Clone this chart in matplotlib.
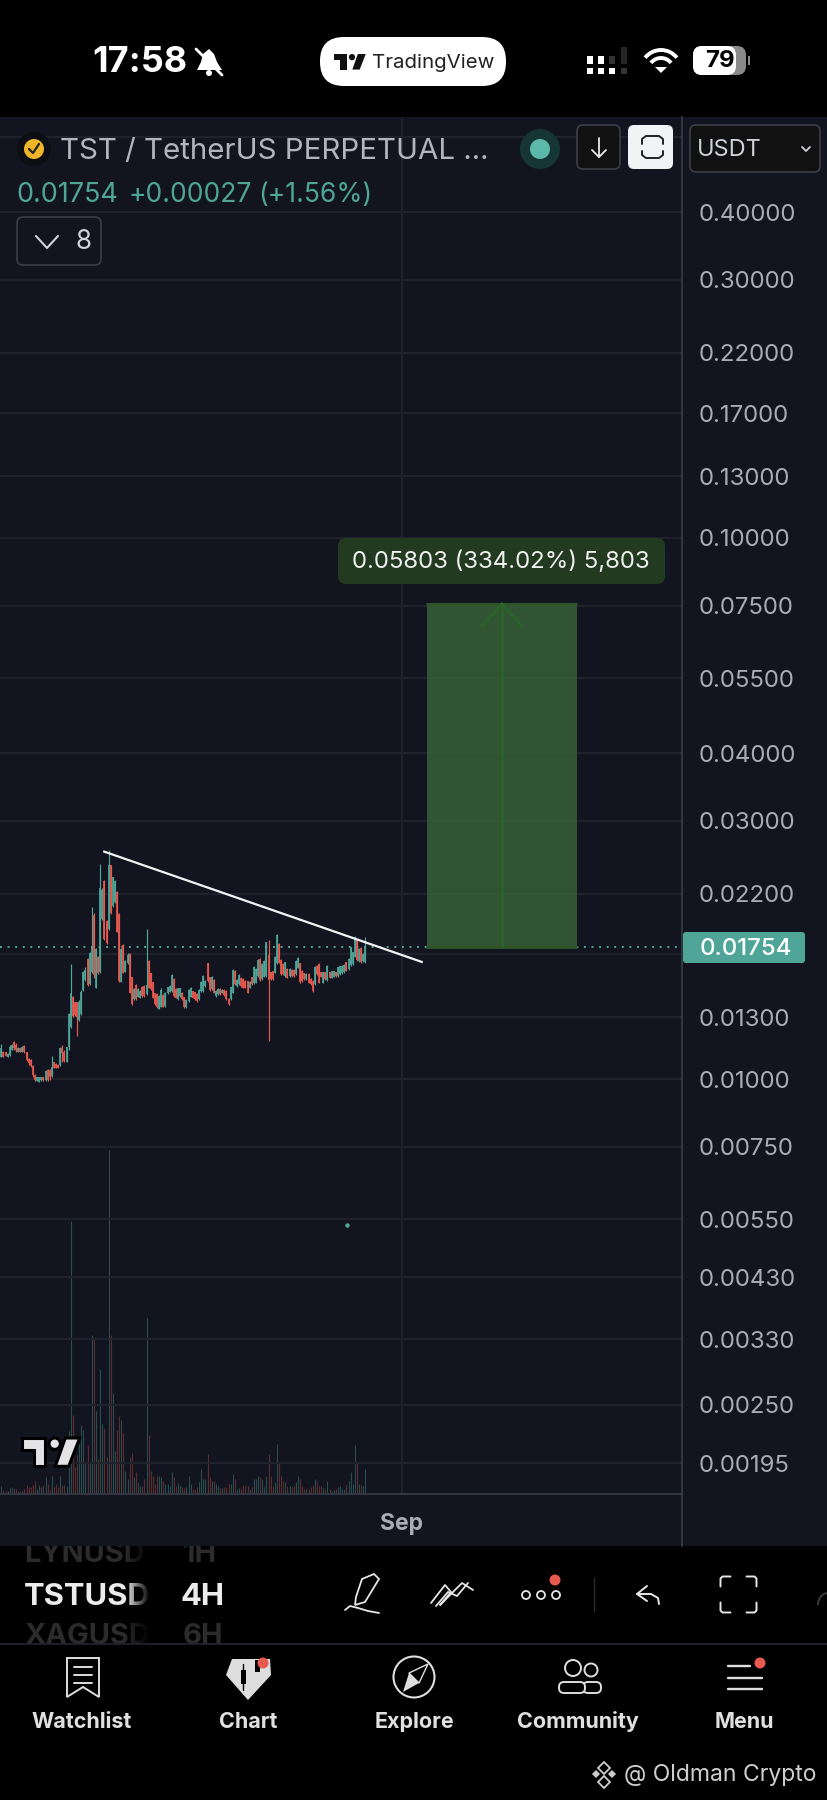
import numpy as np
import matplotlib
matplotlib.use('Agg')
import matplotlib.pyplot as plt
from matplotlib.patches import Rectangle, FancyBboxPatch, Circle, Polygon, Arc
from matplotlib.ticker import NullLocator

plt.rcParams['font.family'] = ['Inter', 'Noto Sans', 'DejaVu Sans']

opens = [.01100,.01124,.01121,.01100,.01108,.01132,.01172,.01156,.01124,.01140,.01124,.01151,.01121,.01087,.01084,.01056,.01017,.00993,.00989,.00996,
 .01007,.00996,.01039,.01039,.01013,.01073,.01066,.01063,.01061,.01140,.01124,.01077,.01148,.01246,.01419,.01386,.01386,.01286,.01317,.01461,
 .01524,.01666,.01496,.01579,.02009,.01475,.01683,.01579,.01972,.02325,.01960,.01891,.02485,.02088,.02126,.02218,.02017,.01513,.01769,.01579,
 .01636,.01702,.01541,.01403,.01492,.01419,.01413,.01481,.01488,.01434,.01654,.01568,.01509,.01440,.01436,.01349,.01360,.01430,.01364,.01440,
 .01450,.01454,.01528,.01467,.01403,.01423,.01442,.01415,.01356,.01393,.01419,.01452,.01446,.01436,.01403,.01454,.01454,.01486,.01636,.01541,
 .01465,.01524,.01423,.01434,.01467,.01444,.01461,.01456,.01405,.01403,.01444,.01586,.01486,.01496,.01537,.01530,.01519,.01515,.01475,.01541,
 .01503,.01507,.01550,.01666,.01528,.01546,.01550,.01695,.01575,.01581,.01572,.01636,.01777,.01659,.01631,.01550,.01597,.01550,.01593,.01593,
 .01561,.01606,.01636,.01586,.01568,.01528,.01564,.01530,.01519,.01496,.01620,.01631,.01575,.01507,.01575,.01524,.01575,.01539,.01546,.01575,
 .01550,.01561,.01568,.01575,.01643,.01595,.01624,.01631,.01683,.01807,.01652,.01746,.01652,.01647]
closes = [.01140,.01100,.01105,.01113,.01148,.01156,.01140,.01129,.01140,.01124,.01148,.01124,.01084,.01069,.01056,.01017,.00996,.01007,.01007,.01007,
 .00996,.01036,.00996,.01010,.01054,.01046,.01046,.01050,.01140,.01116,.01081,.01145,.01319,.01440,.01308,.01313,.01304,.01390,.01450,.01579,
 .01590,.01492,.01707,.01744,.01557,.01736,.01568,.02250,.02240,.01812,.01781,.02485,.02023,.02358,.02325,.01872,.01517,.01736,.01572,.01654,
 .01695,.01444,.01374,.01467,.01403,.01467,.01456,.01423,.01423,.01492,.01475,.01465,.01413,.01374,.01356,.01426,.01461,.01360,.01440,.01477,
 .01486,.01557,.01423,.01413,.01471,.01471,.01403,.01356,.01399,.01461,.01475,.01413,.01403,.01393,.01461,.01513,.01550,.01519,.01517,.01461,
 .01546,.01444,.01456,.01467,.01434,.01461,.01430,.01403,.01374,.01477,.01590,.01496,.01524,.01557,.01486,.01475,.01475,.01444,.01513,.01496,
 .01613,.01597,.01659,.01524,.01631,.01654,.01789,.01524,.01528,.01528,.01683,.01846,.01640,.01561,.01561,.01643,.01539,.01597,.01550,.01550,
 .01654,.01673,.01511,.01517,.01528,.01564,.01507,.01496,.01454,.01613,.01561,.01507,.01546,.01575,.01528,.01620,.01539,.01581,.01581,.01550,
 .01608,.01615,.01620,.01627,.01586,.01666,.01751,.01714,.01833,.01659,.01739,.01645,.01702,.01754]
highs = [.01161,.01127,.01124,.01116,.01156,.01161,.01177,.01168,.01148,.01143,.01151,.01156,.01124,.01092,.01087,.01061,.01021,.01010,.01010,.01010,
 .01010,.01039,.01042,.01042,.01103,.01077,.01069,.01066,.01145,.01156,.01132,.01148,.01322,.01631,.01423,.01390,.01390,.01399,.01461,.01586,
 .01608,.01671,.01719,.02082,.02023,.01744,.01688,.02496,.02250,.02331,.01967,.02648,.02485,.02365,.02331,.02228,.02023,.01744,.01777,.01659,
 .01707,.01707,.01546,.01471,.01498,.01471,.01461,.01488,.01492,.01893,.01659,.01572,.01513,.01444,.01440,.01430,.01471,.01436,.01450,.01481,
 .01492,.01564,.01535,.01471,.01475,.01475,.01446,.01419,.01403,.01465,.01481,.01456,.01450,.01440,.01465,.01519,.01557,.01524,.01640,.01546,
 .01550,.01528,.01461,.01471,.01471,.01465,.01465,.01461,.01409,.01481,.01597,.01590,.01528,.01564,.01541,.01535,.01524,.01519,.01517,.01546,
 .01617,.01601,.01664,.01671,.01636,.01659,.01794,.01807,.01579,.01586,.01688,.01854,.01781,.01664,.01636,.01647,.01601,.01601,.01597,.01597,
 .01659,.01678,.01640,.01590,.01572,.01568,.01568,.01535,.01524,.01617,.01624,.01636,.01579,.01579,.01579,.01624,.01579,.01586,.01586,.01579,
 .01613,.01620,.01624,.01631,.01647,.01671,.01756,.01719,.01838,.01812,.01744,.01751,.01707,.01833]
lows = [.01097,.01097,.01103,.01097,.01103,.01129,.01132,.01124,.01121,.01121,.01121,.01116,.01081,.01061,.01054,.01010,.00993,.00993,.00989,.00993,
 .00993,.00993,.00993,.00996,.01010,.01046,.01046,.01050,.01056,.01077,.01077,.01077,.01132,.01241,.01304,.01309,.01201,.01282,.01313,.01456,
 .01519,.01488,.01492,.01572,.01535,.01471,.01564,.01572,.01967,.01807,.01777,.01885,.02017,.02082,.02117,.01866,.01513,.01509,.01568,.01575,
 .01631,.01440,.01370,.01399,.01399,.01415,.01409,.01419,.01419,.01430,.01471,.01461,.01409,.01370,.01351,.01345,.01356,.01356,.01360,.01436,
 .01446,.01450,.01419,.01409,.01399,.01419,.01399,.01351,.01351,.01390,.01415,.01409,.01399,.01390,.01399,.01450,.01450,.01481,.01513,.01456,
 .01461,.01440,.01419,.01430,.01430,.01440,.01426,.01399,.01370,.01399,.01440,.01492,.01481,.01492,.01481,.01471,.01471,.01440,.01471,.01492,
 .01498,.01503,.01546,.01519,.01524,.01541,.01546,.01174,.01524,.01524,.01568,.01631,.01636,.01557,.01557,.01546,.01535,.01546,.01546,.01546,
 .01557,.01601,.01507,.01513,.01524,.01524,.01503,.01492,.01450,.01492,.01557,.01503,.01541,.01503,.01524,.01519,.01535,.01535,.01541,.01546,
 .01546,.01557,.01564,.01570,.01581,.01590,.01620,.01627,.01678,.01654,.01647,.01640,.01647,.01640]
# volume, arbitrary units
volumes = [25,12,8,8,18,22,18,14,10,8,8,14,26,22,22,26,38,14,28,22,28,52,30,16,55,20,30,20,55,28,28,25,188,818,238,80,118,150,208,191,
 95,146,95,476,470,248,105,376,211,198,110,1031,478,302,128,191,235,221,183,70,45,110,123,50,65,35,25,25,45,528,176,70,55,30,55,55,50,40,30,30,
 25,65,50,25,32,28,20,18,22,55,30,14,14,22,35,75,45,45,120,50,40,40,30,25,18,18,22,22,30,30,60,45,15,18,15,28,25,25,15,22,
 45,45,55,50,45,22,55,120,55,25,35,151,93,55,40,35,25,25,22,25,35,55,45,25,14,14,14,22,28,45,38,25,25,22,14,40,14,10,12,14,
 22,25,14,14,28,40,65,30,148,93,30,28,25,76]

price_ticks = [0.55, 0.40, 0.30, 0.22, 0.17, 0.13, 0.10, 0.075, 0.055, 0.04, 0.03, 0.022, 0.017, 0.013,
               0.01, 0.0075, 0.0055, 0.0043, 0.0033, 0.0025, 0.00195]
price_labels = ['', '0.40000', '0.30000', '0.22000', '0.17000', '0.13000', '0.10000', '0.07500', '0.05500', '0.04000',
                '0.03000', '0.02200', '', '0.01300', '0.01000', '0.00750', '0.00550', '0.00430', '0.00330', '0.00250', '0.00195']
last_price = 0.01754
measure_top = 0.07557
sep_bar = 190.3
trend_x = [48.9, 199.8]
trend_y = [0.02632, 0.01646]
box_x = [202.3, 273.6]
dot_x, dot_y = 164.3, 0.00537

BG = '#12151f'
GRID = '#20232c'
UP = '#4fa598'
DOWN = '#e8594f'
VOL_UP = '#2a4c4e'
VOL_DOWN = '#5a2d2f'
TICK = '#a9acb4'
W, H = 828, 1800


def px(s):
    return s * 0.72


fig = plt.figure(figsize=(W / 100, H / 100), dpi=100, facecolor='black')
top, bot, right = 117, 1494, 682

# panel behind the price scale and the time strip
fig.add_artist(Rectangle((right / W, 1 - 1546 / H), (W - right) / W, (1546 - top) / H, transform=fig.transFigure,
                         fc=BG, lw=0, zorder=0))
fig.add_artist(Rectangle((0, 1 - 1546 / H), 1, (1546 - bot) / H, transform=fig.transFigure, fc=BG, lw=0, zorder=0))

ax = fig.add_axes([0, 1 - bot / H, right / W, (bot - top) / H])
vol = ax.twinx()
vol.set_zorder(1)
ax.set_zorder(2)
ax.patch.set_visible(False)
vol.patch.set_visible(True)
vol.set_facecolor(BG)

idx = np.arange(len(opens))
colors = [UP if c >= o else DOWN for o, c in zip(opens, closes)]
ax.set_yscale('log')
ax.set_ylim(10 ** ((1079 - bot) / 541 - 2), 10 ** ((1079 - top) / 541 - 2))
ax.set_xlim(-0.634, 323.5)
vol.set_ylim(0, (bot - top) * 3)
vol.set_yticks([])

vcolors = [VOL_UP if c >= o else VOL_DOWN for o, c in zip(opens, closes)]
vol.vlines(idx, 0, volumes, colors=vcolors, lw=0.78)

ax.set_yticks(price_ticks)
ax.set_yticklabels(price_labels)
ax.yaxis.set_minor_locator(NullLocator())
ax.yaxis.tick_right()
ax.tick_params(axis='y', length=0, pad=11.7, labelsize=px(24), labelcolor=TICK)
ax.set_xticks([sep_bar])
ax.set_xticklabels(['Sep'], fontweight='bold', fontsize=px(23), color=TICK)
ax.tick_params(axis='x', length=0, pad=13.5)
ax.grid(True, color=GRID, lw=1.4)
ax.set_axisbelow(True)
for a in (ax, vol):
    for s in a.spines.values():
        s.set_visible(False)

# position tool
ax.add_patch(Rectangle((box_x[0], last_price), box_x[1] - box_x[0], measure_top - last_price,
                       fc='#3a6437', alpha=0.8, lw=0, zorder=2))
ax.hlines([last_price, measure_top], box_x[0] - 0.5, box_x[1], colors='#2b5429', lw=2.2, zorder=3)
mid = sum(box_x) / 2
ax.vlines(mid, last_price, measure_top, colors='#2a632a', lw=2.2, zorder=3)
ax.plot([mid - 9.5, mid, mid + 9.5], [measure_top * 0.91, measure_top, measure_top * 0.91],
        color='#2a632a', lw=2.2, zorder=3)

# last price line
ax.axhline(last_price, color=UP, lw=1.4, ls=(0, (1, 2.9)), zorder=2.5)

# candles
ax.vlines(idx, lows, highs, colors=colors, lw=0.85, zorder=4)
ax.vlines(idx, opens, closes, colors=colors, lw=1.25, zorder=4)
ax.plot(trend_x, trend_y, color='#f2f2f2', lw=1.6, zorder=5)
ax.plot([dot_x], [dot_y], 'o', color=UP, ms=3.2, mew=0, zorder=5)

# ---- everything around the chart, in screen pixels
ui = fig.add_axes([0, 0, 1, 1], facecolor='none', zorder=3)
ui.set_xlim(0, W)
ui.set_ylim(H, 0)
ui.axis('off')
LG = '#d8d8d8'


def box(x0, y0, x1, y1, fc, ec='none', r=6, lw=1.2, z=3):
    ui.add_patch(FancyBboxPatch((x0 + r, y0 + r), x1 - x0 - 2 * r, y1 - y0 - 2 * r,
                                boxstyle='round,pad=%d,rounding_size=%d' % (r, r),
                                fc=fc, ec=ec, lw=lw, zorder=z))


def txt(x, y, s, size, color='white', ha='left', weight='normal', **kw):
    return ui.text(x, y, s, fontsize=px(size), color=color, ha=ha, va='center', fontweight=weight, **kw)


def line(xs, ys, color=LG, lw=1.6, z=4):
    ui.plot(xs, ys, color=color, lw=lw, solid_capstyle='round', solid_joinstyle='round', zorder=z)


def tv_logo(x, y, s, color, z=6, **kw):
    ui.add_patch(Polygon([(x, y), (x + 23.3 * s, y), (x + 23.3 * s, y + 28.3 * s), (x + 11.7 * s, y + 28.3 * s),
                          (x + 11.7 * s, y + 11.7 * s), (x, y + 11.7 * s)], fc=color, zorder=z, **kw))
    ui.add_patch(Circle((x + 32.7 * s, y + 5.7 * s), 5.7 * s, fc=color, zorder=z, **kw))
    ui.add_patch(Polygon([(x + 43.3 * s, y), (x + 57.7 * s, y), (x + 46.7 * s, y + 28.3 * s), (x + 33.3 * s, y + 28.3 * s)],
                         fc=color, zorder=z, **kw))


ui.plot([right, right], [top, 1546], color='#363a45', lw=1.3, zorder=1)
ui.plot([0, right], [bot, bot], color='#363a45', lw=1.3, zorder=1)

# current price tag
box(683, 932, 805, 963, UP, r=3)
txt(746, 949, '0.01754', 24, 'white', ha='center', weight='medium', zorder=7)

# measure label
box(338, 538, 665, 584, '#213a20', r=8)
txt(501, 562, '0.05803 (334.02%) 5,803', 24, '#f0f0f0', ha='center', zorder=7)

# status bar
txt(92, 63, '17:58', 36, 'white', weight='bold', zorder=7)
line([196, 222], [49, 75], 'white', 2.0)
ui.add_patch(Polygon([(197, 70), (201, 62), (203, 54), (209, 49), (214, 54), (217, 62), (222, 70)], fc='white', zorder=4))
ui.add_patch(Circle((209, 73), 3, fc='white', zorder=4))
box(320, 37, 506, 86, 'white', r=24)
tv_logo(334, 54, 0.55, '#111111', z=7)
txt(372, 63, 'TradingView', 20.5, '#222222', zorder=7)
for i, xs in enumerate([590, 601, 612, 624]):
    top_c = ['white', 'white', '#333333', '#262626'][i]
    bot_c = ['white', 'white', 'white', '#333333'][i]
    ui.add_patch(Rectangle((xs - 3, 56 if i < 3 else 47), 6, 8 if i < 3 else 17, fc=top_c, lw=0, zorder=4))
    ui.add_patch(Rectangle((xs - 3, 68), 6, 6, fc=bot_c, lw=0, zorder=4))
for r_ in (22, 14):
    ui.add_patch(Arc((661, 72), 2 * r_ * 0.95, 2 * r_, theta1=222, theta2=318, ec='white', lw=2.8, zorder=4))
ui.add_patch(Polygon([(655, 67), (667, 67), (661, 73)], fc='white', zorder=4))
box(693, 46, 746, 75, '#8a8a8a', r=9)
box(693, 46, 736, 75, 'white', r=9, z=4)
ui.add_patch(Rectangle((748, 56), 2, 9, fc='#8a8a8a', lw=0, zorder=4))
txt(720, 61, '79', 24, 'black', ha='center', weight='bold', zorder=7)

# legend row
ui.add_patch(Circle((34, 149), 17, fc='#0c0e14', zorder=4))
ui.add_patch(Circle((34, 149), 10, fc='#f0b429', zorder=5))
line([29, 33, 39], [149, 153, 144], '#222222', 1.6, z=6)
txt(60, 151, 'TST / TetherUS PERPETUAL ...', 29.5, '#b2b5be', zorder=7)
ui.add_patch(Circle((540, 149), 20, fc='#163636', zorder=4))
ui.add_patch(Circle((540, 149), 10, fc='#5cb8a8', zorder=5))
box(577, 125, 620, 169, '#111111', '#3b3e47')
line([599, 599], [138, 157], '#e8e8e8', 1.3, z=5)
line([592, 599, 606], [150, 157, 150], '#e8e8e8', 1.3, z=5)
box(628, 125, 673, 169, '#f2f3f4', r=6)
line([642, 642, 646, 659, 663, 663], [144, 139, 136, 136, 139, 144], '#222222', 1.4, z=5)
line([642, 642, 646, 659, 663, 663], [151, 155, 158, 158, 155, 151], '#222222', 1.4, z=5)
box(690, 125, 820, 172, '#111111', '#3b3e47')
txt(697, 150, 'USDT', 23.5, '#d0d3d9', zorder=7)
line([802, 806, 810], [147, 151, 147], '#d0d3d9', 1.3, z=5)
txt(16, 195, '0.01754', 27, UP, zorder=7)
txt(129, 195, '+0.00027', 26.5, UP, zorder=7)
txt(258, 195, '(+1.56%)', 26.5, UP, zorder=7)
box(17, 217, 101, 265, BG, '#3b3e47')
line([36, 47, 58], [236, 248, 236], '#d0d3d9', 1.5, z=5)
txt(84, 242, '8', 26, '#d0d3d9', ha='center', zorder=7)

# TradingView watermark
tv_logo(22, 1438, 1.0, '#e4e4e6', z=6, ec='black', lw=2.2)

# toolbar
clip = Rectangle((0, 1546), W, 98, transform=ui.transData)
faded = [txt(24, 1555, 'LYNUSD', 29, '#2b2b2b', weight='bold', zorder=3),
         txt(183, 1555, '1H', 29, '#2b2b2b', weight='bold', zorder=3),
         txt(24, 1636, 'XAGUSD', 29, '#2b2b2b', weight='bold', zorder=3),
         txt(183, 1636, '6H', 29, '#2b2b2b', weight='bold', zorder=3)]
for t in faded:
    t.set_clip_path(clip)
    t.set_clip_on(True)
txt(24, 1597, 'TSTUSD', 31, '#ececec', weight='bold', zorder=3)
txt(181, 1597, '4H', 31, '#ececec', weight='bold', zorder=3)
grad = np.zeros((1, 40, 4))
grad[0, :, 3] = np.linspace(0, 1, 40)
ui.imshow(grad, extent=(125, 150, 1644, 1546), aspect='auto', zorder=4)
ui.add_patch(Rectangle((150, 1546), 25, 98, fc='black', lw=0, zorder=4))
ui.set_xlim(0, W)
ui.set_ylim(H, 0)
ui.plot([0, W], [1644, 1644], color='#222326', lw=1.3, zorder=5)

# drawing tools
ui.add_patch(Polygon([(362, 1579), (374, 1574), (379, 1579), (365, 1602), (355, 1605), (356, 1597)],
                     fc='black', ec='#e6e6e6', lw=1.3, zorder=5))
line([345, 350, 358, 368, 379], [1610, 1606, 1608, 1611, 1613], '#e6e6e6', 1.3, z=5)
line([431, 445, 451, 440, 462, 473], [1603, 1585, 1592, 1605, 1583, 1590], '#e6e6e6', 1.3, z=5)
line([436, 448, 457, 468], [1606, 1592, 1596, 1583], '#e6e6e6', 1.3, z=5)
for cx in (526, 541, 556):
    ui.add_patch(Circle((cx, 1595), 4, fc='black', ec='#e6e6e6', lw=1.3, zorder=5))
ui.add_patch(Circle((555, 1580), 5.5, fc=DOWN, zorder=6))
ui.plot([594, 594], [1578, 1611], color='#2a2a2a', lw=1, zorder=5)
line([647, 637, 647], [1586, 1594, 1601], '#e6e6e6', 1.4, z=5)
line([637, 651, 658, 659], [1594, 1594, 1598, 1604], '#e6e6e6', 1.4, z=5)
for sx, sy in ((1, 1), (-1, 1), (1, -1), (-1, -1)):
    cx, cy = 738.5 - 18 * sx, 1594.5 - 18 * sy
    line([cx + 10 * sx, cx + 2 * sx, cx, cx], [cy, cy, cy + 2 * sy, cy + 10 * sy], '#e6e6e6', 1.4, z=5)
ui.add_patch(Arc((828, 1605), 20, 24, theta1=180, theta2=270, ec='#3a3a3a', lw=1.4, zorder=5))

# bottom nav
ui.add_patch(Polygon([(67, 1658), (99, 1658), (99, 1697), (83, 1687), (67, 1697)], fc='black', ec='#dedede', lw=1.4, zorder=5))
for yy in (1667, 1675, 1683):
    line([74, 92], [yy, yy], '#dedede', 1.4, z=6)
ui.add_patch(Polygon([(232, 1659), (270, 1659), (271, 1675), (248, 1700), (226, 1675)], fc='#dedede', zorder=5))
ui.add_patch(Rectangle((241, 1670), 5, 14, fc='black', lw=0, zorder=6))
line([243.5, 243.5], [1664, 1690], 'black', 1, z=6)
ui.add_patch(Rectangle((255, 1660), 5, 12, fc='black', lw=0, zorder=6))
ui.add_patch(Circle((263, 1663), 5.5, fc=DOWN, zorder=7))
ui.add_patch(Circle((414, 1677), 20.5, fc='black', ec='#dedede', lw=1.5, zorder=5))
ui.add_patch(Polygon([(428, 1664), (419, 1683), (403, 1692), (409, 1673)], fc='#dedede', zorder=6))
ui.add_patch(Polygon([(428, 1664), (409, 1673), (419, 1683)], fc='black', ec='#dedede', lw=1, zorder=7))
ui.add_patch(Circle((573, 1668), 8, fc='black', ec='#dedede', lw=1.4, zorder=5))
ui.add_patch(Circle((591, 1670), 6.5, fc='black', ec='#dedede', lw=1.4, zorder=5))
ui.add_patch(FancyBboxPatch((583, 1682), 18, 11, boxstyle='round,pad=0,rounding_size=5', fc='black', ec='#dedede', lw=1.4, zorder=5))
ui.add_patch(FancyBboxPatch((559, 1682), 26, 11, boxstyle='round,pad=0,rounding_size=5', fc='black', ec='#dedede', lw=1.4, zorder=6))
line([728, 750], [1666, 1666], '#dedede', 1.7, z=5)
line([728, 762], [1678, 1678], '#dedede', 1.7, z=5)
line([728, 762], [1689, 1689], '#dedede', 1.7, z=5)
ui.add_patch(Circle((760, 1663), 5.5, fc=DOWN, zorder=6))
for cx, lab in zip((82, 248, 414, 578, 744), ('Watchlist', 'Chart', 'Explore', 'Community', 'Menu')):
    txt(cx, 1722, lab, 21.5, '#e0e0e0', ha='center', weight='bold', zorder=7)

# credit
ui.add_patch(Polygon([(604, 1762), (610, 1768), (604, 1774), (598, 1768)], fc='none', ec='#cccccc', lw=1.3, zorder=5))
ui.add_patch(Polygon([(604, 1776), (610, 1782), (604, 1788), (598, 1782)], fc='none', ec='#cccccc', lw=1.3, zorder=5))
ui.add_patch(Polygon([(596, 1770), (600, 1774), (596, 1778), (592, 1774)], fc='#cccccc', zorder=5))
ui.add_patch(Polygon([(612, 1770), (616, 1774), (612, 1778), (608, 1774)], fc='#cccccc', zorder=5))
txt(624, 1775, '@ Oldman Crypto', 23, '#cfcfcf', zorder=7)

fig.savefig('out.png', dpi=100, facecolor='black')
